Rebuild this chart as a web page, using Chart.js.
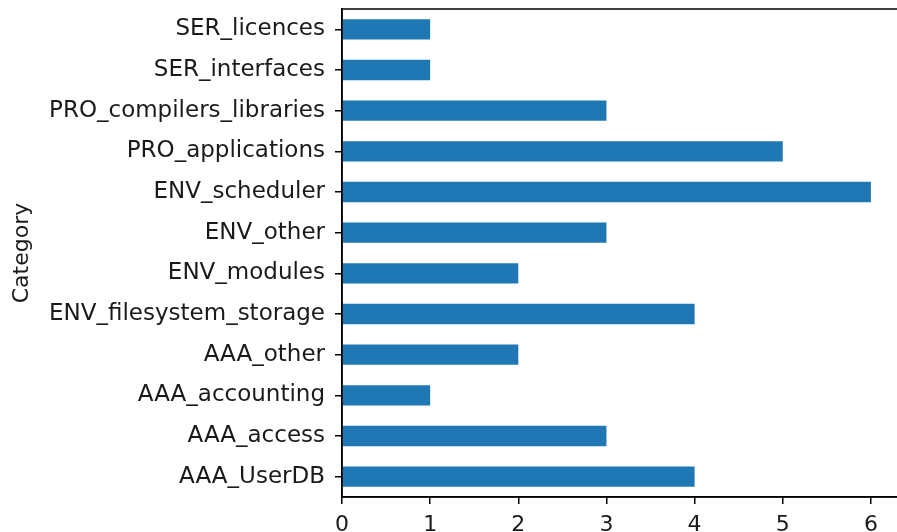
<!DOCTYPE html>
<html>
	<head>
		<title>Tickets per category</title>
		<script src="https://cdnjs.cloudflare.com/ajax/libs/Chart.js/4.4.1/chart.umd.min.js"></script>
		<style>
			html, body {
				margin: 0;
				padding: 0;
				overflow: hidden;
				background: #fff;
			}
			.chart-container {
				width: 900px;
				height: 532px;
			}
		</style>
	</head>
	<body>
		<div class="chart-container">
			<canvas id="barChart"></canvas>
		</div>
		<script>
			// categories, bottom to top as in the original plot
			const categories = [
				"AAA_UserDB",
				"AAA_access",
				"AAA_accounting",
				"AAA_other",
				"ENV_filesystem_storage",
				"ENV_modules",
				"ENV_other",
				"ENV_scheduler",
				"PRO_applications",
				"PRO_compilers_libraries",
				"SER_interfaces",
				"SER_licences",
			];
			const counts = [4, 3, 1, 2, 4, 2, 3, 6, 5, 3, 1, 1];
			const xTicks = [0, 1, 2, 3, 4, 5, 6];

			const textColor = "#1a1a1a";
			const font = { family: "DejaVu Sans", size: 22 };
			const labelFont = { family: "DejaVu Sans", size: 23 };

			// draws the full axes box like matplotlib does
			const frame = {
				id: "frame",
				afterDraw(chart) {
					const { ctx, chartArea } = chart;
					ctx.save();
					ctx.strokeStyle = "#000";
					ctx.lineWidth = 1.5;
					ctx.strokeRect(chartArea.left, chartArea.top, chartArea.right - chartArea.left, chartArea.bottom - chartArea.top);
					ctx.restore();
				},
			};

			const data = {
				labels: categories,
				datasets: [
					{
						data: counts,
						backgroundColor: "#1f77b4",
						borderWidth: 0,
						barPercentage: 0.5,
						categoryPercentage: 1,
					},
				],
			};

			const config = {
				type: "bar",
				data: data,
				plugins: [frame],
				options: {
					indexAxis: "y",
					responsive: true,
					maintainAspectRatio: false,
					animation: false,
					layout: {
						padding: { top: 9, left: 0, right: 0, bottom: 0 },
					},
					plugins: {
						legend: { display: false },
						tooltip: { enabled: false },
					},
					scales: {
						x: {
							type: "linear",
							min: 0,
							max: 6.33,
							afterBuildTicks: (scale) => {
								scale.ticks = xTicks.map((v) => ({ value: v }));
							},
							afterFit: (scale) => {
								scale.height = 35;
								scale.paddingLeft = 0;
								scale.paddingRight = 0;
							},
							ticks: {
								color: textColor,
								font: font,
								padding: 8,
								maxRotation: 0,
							},
							grid: {
								drawOnChartArea: false,
								drawTicks: true,
								tickLength: 7,
								color: "#000",
								lineWidth: 1.5,
							},
							border: { display: true, color: "#000", width: 1.5 },
						},
						y: {
							reverse: true,
							afterFit: (scale) => {
								scale.width = 342;
								scale.paddingTop = 0;
								scale.paddingBottom = 0;
							},
							title: {
								display: true,
								text: "Category",
								color: textColor,
								font: font,
								padding: { top: 9, bottom: 0 },
							},
							ticks: {
								color: textColor,
								font: labelFont,
								padding: 10,
							},
							grid: {
								offset: false,
								drawOnChartArea: false,
								drawTicks: true,
								tickLength: 7,
								color: "#000",
								lineWidth: 1.5,
							},
							border: { display: true, color: "#000", width: 1.5 },
						},
					},
				},
			};

			new Chart(document.getElementById("barChart"), config);
		</script>
	</body>
</html>
